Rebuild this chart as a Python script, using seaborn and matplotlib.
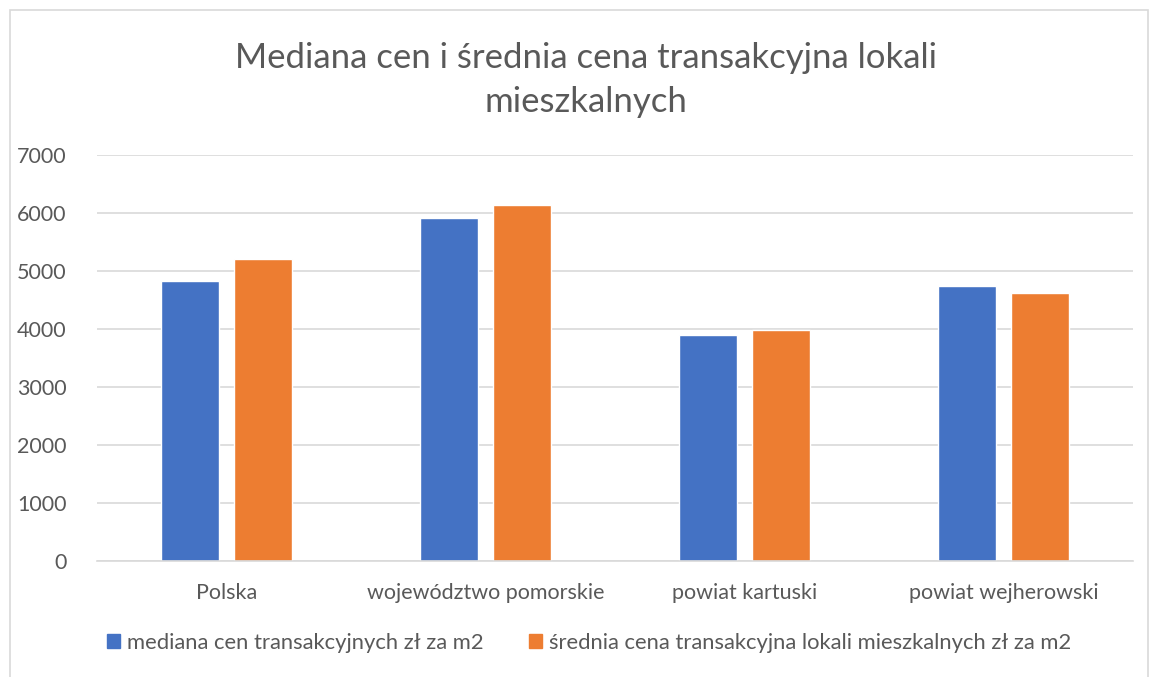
import matplotlib
matplotlib.use("Agg")
import matplotlib.pyplot as plt
import seaborn as sns
import pandas as pd
from matplotlib.patches import Rectangle, Patch

categories = ["Polska", "województwo pomorskie", "powiat kartuski", "powiat wejherowski"]
series_names = ["mediana cen transakcyjnych zł za m2",
                "średnia cena transakcyjna lokali mieszkalnych zł za m2"]
mediana = [4830, 5920, 3895, 4740]
srednia = [5200, 6140, 3975, 4615]
yticks = [0, 1000, 2000, 3000, 4000, 5000, 6000, 7000]
title = "Mediana cen i średnia cena transakcyjna lokali\nmieszkalnych"

colors = ["#4472C4", "#ED7D31"]

df = pd.DataFrame({
    "kategoria": categories * 2,
    "seria": [series_names[0]] * 4 + [series_names[1]] * 4,
    "wartosc": mediana + srednia,
})

sns.set_theme(style="white")
plt.rcParams["font.family"] = ["Lato", "DejaVu Sans"]

fig = plt.figure(figsize=(11.51, 6.77), dpi=100)
W, H = 1151, 677
ax = fig.add_axes([97 / W, 1 - 561 / H, (1133 - 97) / W, (561 - 155) / H])

sns.barplot(data=df, x="kategoria", y="wartosc", hue="seria", palette=colors,
            width=0.564, gap=0.205, ax=ax, legend=False, saturation=1)

ax.set_ylim(0, 7000)
ax.set_xlim(-0.5, 3.5)
ax.set_yticks(yticks)
ax.set_yticklabels([str(v) for v in yticks])
ax.grid(axis="y", color="#D9D9D9", linewidth=1.2)
ax.set_axisbelow(True)
for s in ["top", "right", "left"]:
    ax.spines[s].set_visible(False)
ax.spines["bottom"].set_color("#D9D9D9")
ax.spines["bottom"].set_linewidth(1.2)
ax.tick_params(axis="both", length=0, colors="#595959", labelsize=15.5)
ax.tick_params(axis="y", pad=22)
ax.tick_params(axis="x", pad=16)
ax.set_xlabel("")
ax.set_ylabel("")

fig.text(586 / W, 1 - 80 / H, title, ha="center", va="center", fontsize=25,
         color="#595959", linespacing=1.45, multialignment="center")

handles = [Patch(facecolor=c, edgecolor=c) for c in colors]
fig.legend(handles, series_names, loc="center", bbox_to_anchor=(589 / W, 1 - 643 / H),
           ncol=2, frameon=False, fontsize=15.8, handlelength=0.6, handleheight=0.6,
           handletextpad=0.3, columnspacing=2.1, labelcolor="#595959")

fig.patches.append(Rectangle((10 / W, -0.01), (1148 - 10) / W, 1 - 10 / H + 0.01,
                             transform=fig.transFigure, fill=False,
                             edgecolor="#D9D9D9", linewidth=1.2))

fig.savefig("out.png", dpi=100)
